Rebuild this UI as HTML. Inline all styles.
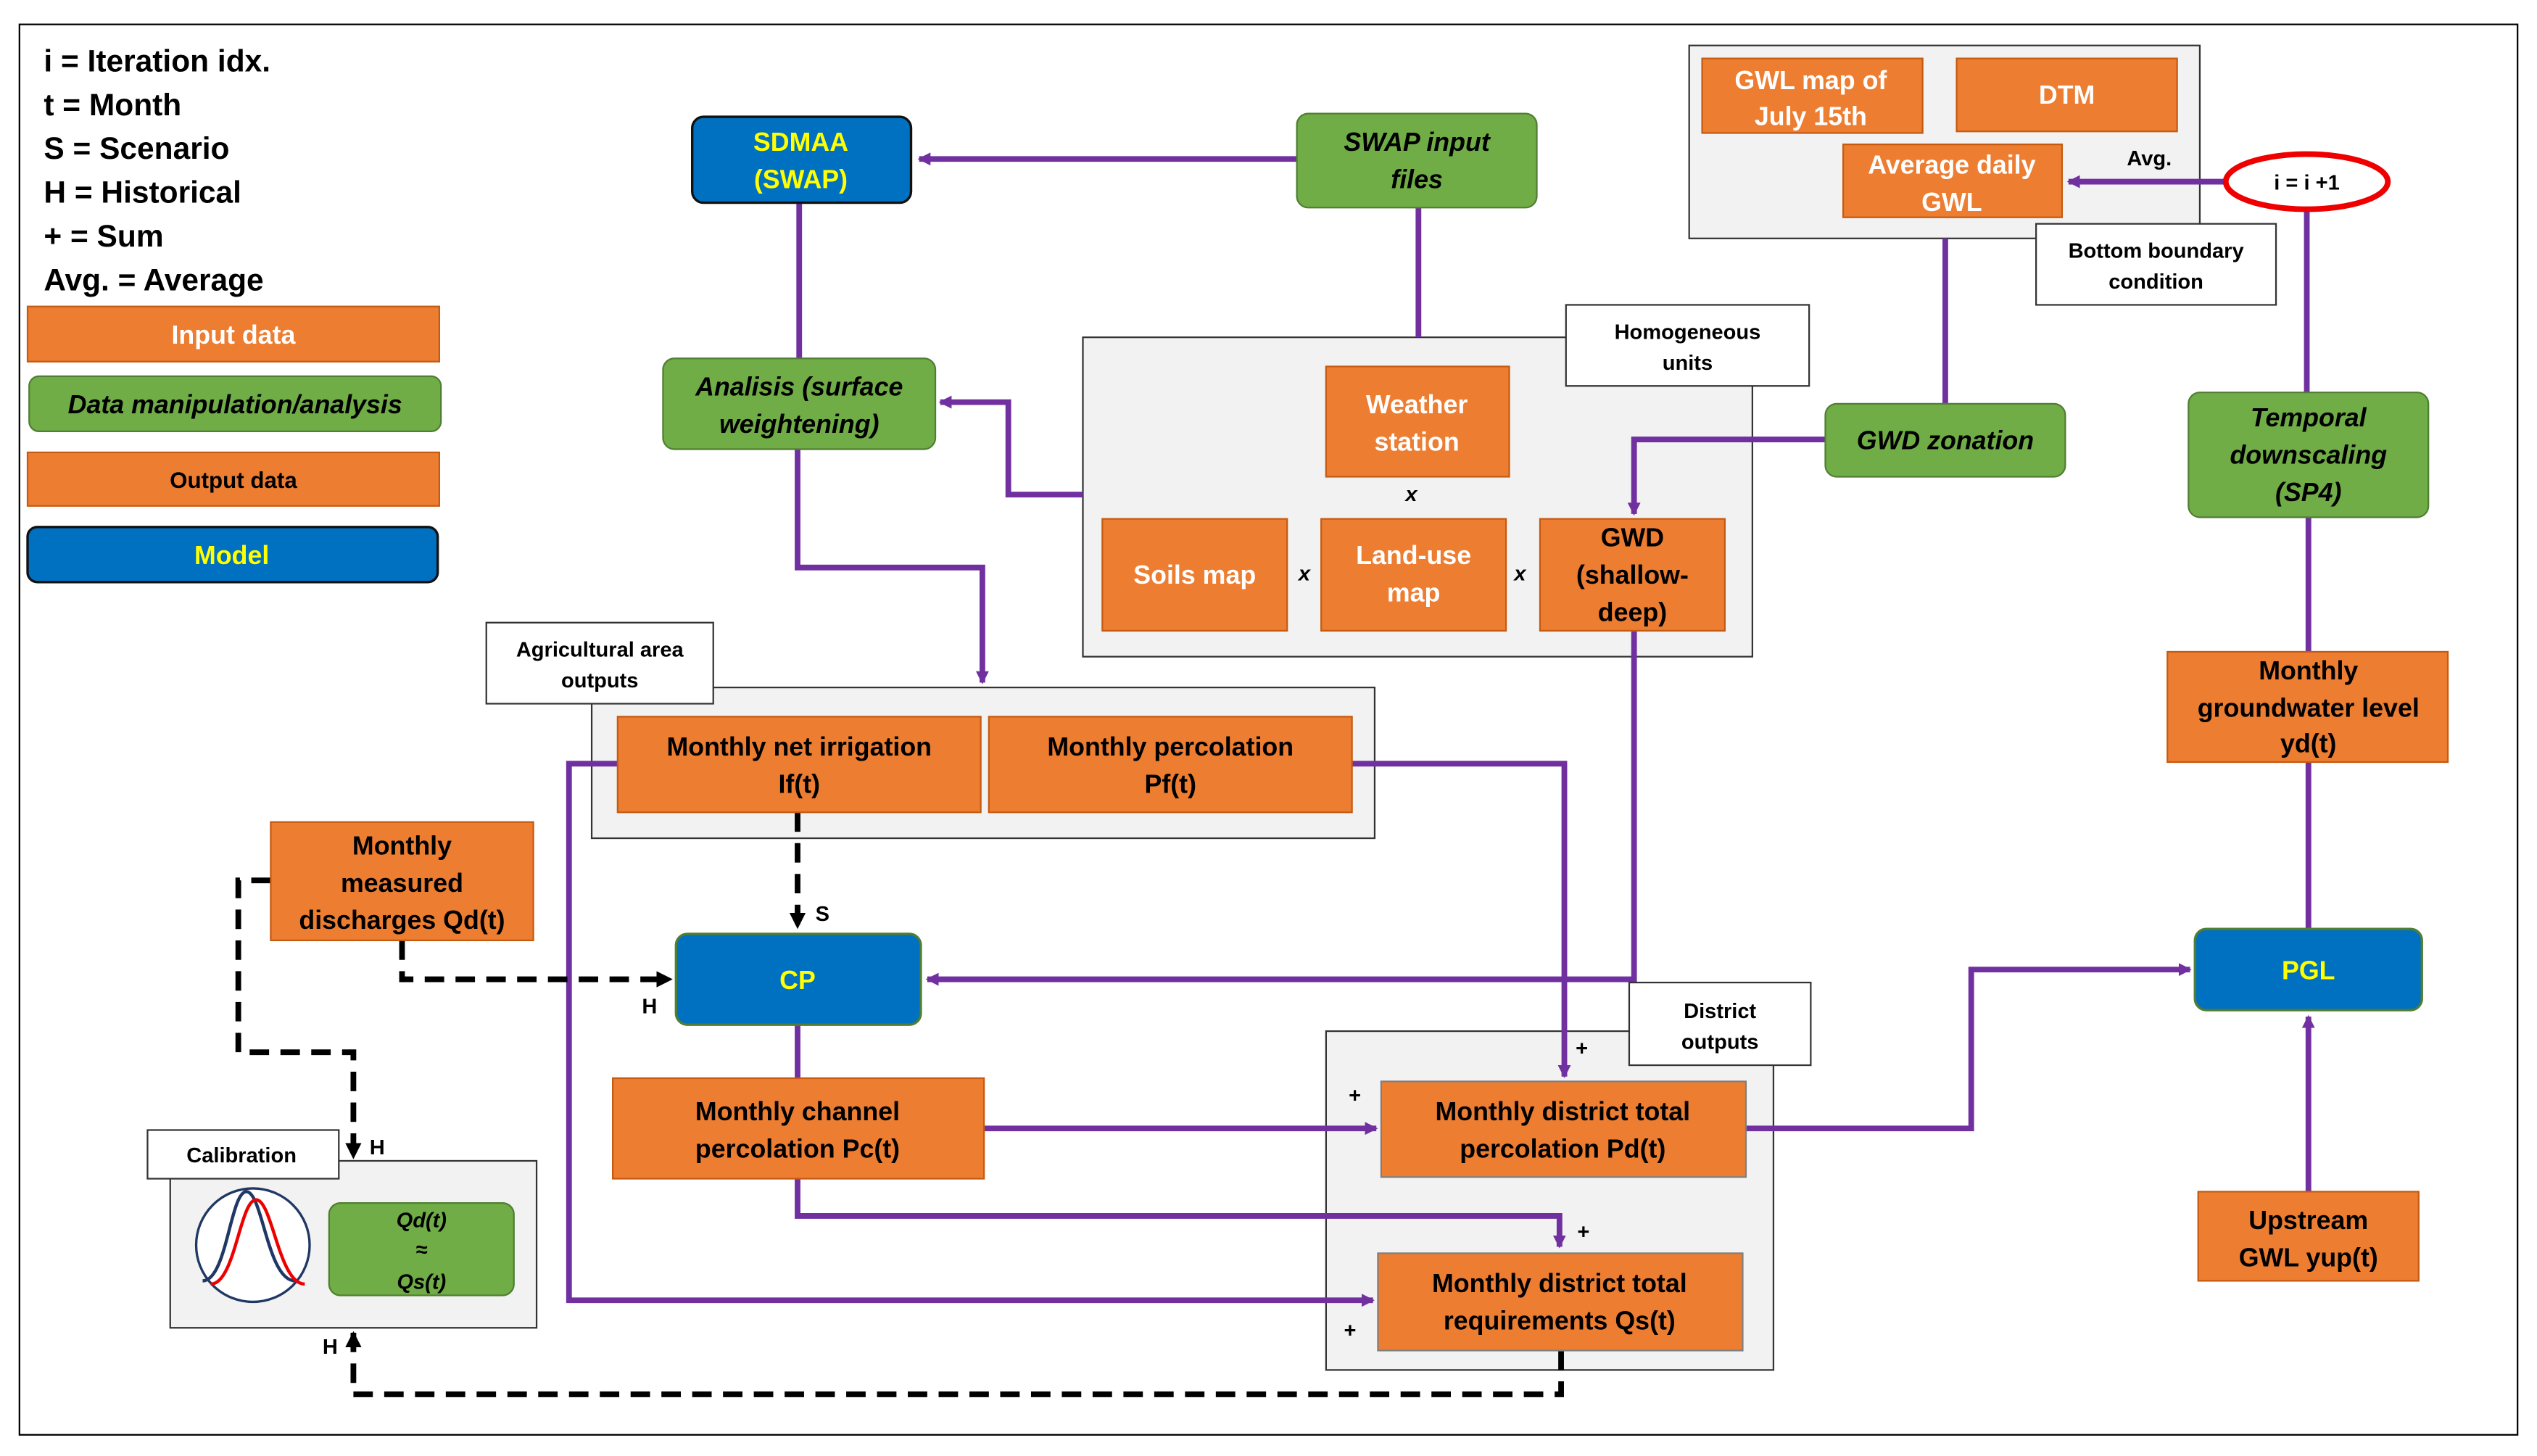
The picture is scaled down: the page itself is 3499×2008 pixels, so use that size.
<!DOCTYPE html>
<html><head><meta charset="utf-8"><style>
html,body{margin:0;padding:0;background:#fff;}
svg{display:block;}
text{font-family:"Liberation Sans",sans-serif;font-weight:bold;}
</style></head><body>
<svg width="3499" height="2008" viewBox="0 0 1565 898" xmlns="http://www.w3.org/2000/svg">
<defs>
<marker id="ap" markerWidth="8" markerHeight="8" refX="7" refY="4" orient="auto" markerUnits="userSpaceOnUse"><path d="M0,0 L8,4 L0,8 Z" fill="#7030A0"/></marker>
<marker id="ak" markerWidth="10" markerHeight="10" refX="9" refY="5" orient="auto" markerUnits="userSpaceOnUse"><path d="M0,0 L10,5 L0,10 Z" fill="#000"/></marker>
</defs>
<rect x="0" y="0" width="1565" height="898" fill="#fff"/>
<rect x="12" y="15" width="1541" height="870" fill="none" stroke="#000" stroke-width="1"/>

<g font-size="19" fill="#000">
<text x="27" y="44">i = Iteration idx.</text>
<text x="27" y="71">t = Month</text>
<text x="27" y="98">S = Scenario</text>
<text x="27" y="125">H = Historical</text>
<text x="27" y="152">+ = Sum</text>
<text x="27" y="179">Avg. = Average</text>
</g>
<rect x="17" y="189" width="254" height="34" fill="#ED7D31" stroke="#C55A11"/>
<text x="144" y="212" font-size="16" fill="#fff" text-anchor="middle">Input data</text>
<rect x="18" y="232" width="254" height="34" rx="6" fill="#70AD47" stroke="#507E32"/>
<text x="145" y="255" font-size="16" font-style="italic" fill="#000" text-anchor="middle">Data manipulation/analysis</text>
<rect x="17" y="279" width="254" height="33" fill="#ED7D31" stroke="#C55A11"/>
<text x="144" y="301" font-size="14" fill="#000" text-anchor="middle">Output data</text>
<rect x="17" y="325" width="253" height="34" rx="6" fill="#0070C0" stroke="#111" stroke-width="1.5"/>
<text x="143" y="348" font-size="16" fill="#FFFF00" text-anchor="middle">Model</text>

<rect x="668" y="208" width="413" height="197" fill="#F2F2F2" stroke="#333"/>
<rect x="365" y="424" width="483" height="93" fill="#F2F2F2" stroke="#333"/>
<rect x="818" y="636" width="276" height="209" fill="#F2F2F2" stroke="#333"/>
<rect x="105" y="716" width="226" height="103" fill="#F2F2F2" stroke="#333"/>
<rect x="1042" y="28" width="315" height="119" fill="#F2F2F2" stroke="#333"/>

<g stroke="#7030A0" stroke-width="3.5" fill="none">
<path d="M800,98 L567,98" marker-end="url(#ap)"/>
<path d="M493,125 L493,221"/>
<path d="M875,128 L875,208"/>
<path d="M668,305 L622,305 L622,248 L580,248" marker-end="url(#ap)"/>
<path d="M492,277 L492,350 L606,350 L606,421" marker-end="url(#ap)"/>
<path d="M834,471 L965,471 L965,664" marker-end="url(#ap)"/>
<path d="M381,471 L351,471 L351,802 L847,802" marker-end="url(#ap)"/>
<path d="M1008,389 L1008,604 L572,604" marker-end="url(#ap)"/>
<path d="M492,632 L492,665"/>
<path d="M607,696 L849,696" marker-end="url(#ap)"/>
<path d="M492,727 L492,750 L962,750 L962,769" marker-end="url(#ap)"/>
<path d="M1077,696 L1216,696 L1216,598 L1351,598" marker-end="url(#ap)"/>
<path d="M1424,735 L1424,627" marker-end="url(#ap)"/>
<path d="M1424,470 L1424,573"/>
<path d="M1424,319 L1424,402"/>
<path d="M1423,129 L1423,242"/>
<path d="M1373,112 L1276,112" marker-end="url(#ap)"/>
<path d="M1200,249 L1200,147"/>
<path d="M1126,271 L1008,271 L1008,317" marker-end="url(#ap)"/>
</g>

<g stroke="#000" stroke-width="3.5" fill="none" stroke-dasharray="12,7">
<path d="M492,501 L492,572" marker-end="url(#ak)"/>
<path d="M248,580 L248,604 L414,604" marker-end="url(#ak)"/>
<path d="M167,543 L147,543 L147,649 L218,649 L218,714" marker-end="url(#ak)"/>
<path d="M963,833 L963,860 L218,860 L218,822" marker-end="url(#ak)"/>
</g>

<g font-size="13" fill="#000" text-anchor="middle">
<rect x="966" y="188" width="150" height="50" fill="#fff" stroke="#333"/>
<text x="1041" y="209">Homogeneous</text><text x="1041" y="228">units</text>
<rect x="300" y="384" width="140" height="50" fill="#fff" stroke="#333"/>
<text x="370" y="405">Agricultural area</text><text x="370" y="424">outputs</text>
<rect x="1005" y="606" width="112" height="51" fill="#fff" stroke="#333"/>
<text x="1061" y="628">District</text><text x="1061" y="647">outputs</text>
<rect x="91" y="697" width="118" height="30" fill="#fff" stroke="#333"/>
<text x="149" y="717">Calibration</text>
<rect x="1256" y="138" width="148" height="50" fill="#fff" stroke="#333"/>
<text x="1330" y="159">Bottom boundary</text><text x="1330" y="178">condition</text>
</g>

<g stroke="#111" stroke-width="1.5" fill="#0070C0">
<rect x="427" y="72" width="135" height="53" rx="7"/>
<rect x="417" y="576" width="151" height="56" rx="7" stroke="#507E32"/>
<rect x="1354" y="573" width="140" height="50" rx="7" stroke="#507E32"/>
</g>
<g font-size="16" fill="#FFFF00" text-anchor="middle">
<text x="494" y="93">SDMAA</text><text x="494" y="116">(SWAP)</text>
<text x="492" y="610">CP</text>
<text x="1424" y="604">PGL</text>
</g>

<g fill="#70AD47" stroke="#507E32">
<rect x="800" y="70" width="148" height="58" rx="7"/>
<rect x="409" y="221" width="168" height="56" rx="7"/>
<rect x="1126" y="249" width="148" height="45" rx="7"/>
<rect x="1350" y="242" width="148" height="77" rx="7"/>
<rect x="203" y="742" width="114" height="57" rx="7"/>
</g>
<g font-size="16" font-style="italic" fill="#000" text-anchor="middle">
<text x="874" y="93">SWAP input</text><text x="874" y="116">files</text>
<text x="493" y="244">Analisis (surface</text><text x="493" y="267">weightening)</text>
<text x="1200" y="277">GWD zonation</text>
<text x="1424" y="263">Temporal</text><text x="1424" y="286">downscaling</text><text x="1424" y="309">(SP4)</text>
<text x="260" y="757" font-size="13">Qd(t)</text><text x="260" y="775" font-size="13">≈</text><text x="260" y="795" font-size="13">Qs(t)</text>
</g>

<g fill="#ED7D31" stroke="#C55A11">
<rect x="818" y="226" width="113" height="68"/>
<rect x="680" y="320" width="114" height="69"/>
<rect x="815" y="320" width="114" height="69"/>
<rect x="950" y="320" width="114" height="69"/>
<rect x="381" y="442" width="224" height="59"/>
<rect x="610" y="442" width="224" height="59"/>
<rect x="167" y="507" width="162" height="73"/>
<rect x="378" y="665" width="229" height="62"/>
<rect x="852" y="667" width="225" height="59" stroke="#7f7f7f"/>
<rect x="850" y="773" width="225" height="60" stroke="#7f7f7f"/>
<rect x="1337" y="402" width="173" height="68"/>
<rect x="1356" y="735" width="136" height="55"/>
<rect x="1050" y="36" width="136" height="46"/>
<rect x="1207" y="36" width="136" height="45"/>
<rect x="1137" y="89" width="135" height="45"/>
</g>
<g font-size="16" fill="#fff" text-anchor="middle">
<text x="874" y="255">Weather</text><text x="874" y="278">station</text>
<text x="737" y="360">Soils map</text>
<text x="872" y="348">Land-use</text><text x="872" y="371">map</text>
<text x="1117" y="55">GWL map of</text><text x="1117" y="77">July 15th</text>
<text x="1275" y="64">DTM</text>
<text x="1204" y="107">Average daily</text><text x="1204" y="130">GWL</text>
</g>
<g font-size="16" fill="#000" text-anchor="middle">
<text x="1007" y="337">GWD</text><text x="1007" y="360">(shallow-</text><text x="1007" y="383">deep)</text>
<text x="493" y="466">Monthly net irrigation</text><text x="493" y="489">If(t)</text>
<text x="722" y="466">Monthly percolation</text><text x="722" y="489">Pf(t)</text>
<text x="248" y="527">Monthly</text><text x="248" y="550">measured</text><text x="248" y="573">discharges Qd(t)</text>
<text x="492" y="691">Monthly channel</text><text x="492" y="714">percolation Pc(t)</text>
<text x="964" y="691">Monthly district total</text><text x="964" y="714">percolation Pd(t)</text>
<text x="962" y="797">Monthly district total</text><text x="962" y="820">requirements Qs(t)</text>
<text x="1424" y="419">Monthly</text><text x="1424" y="442">groundwater level</text><text x="1424" y="464">yd(t)</text>
<text x="1424" y="758">Upstream</text><text x="1424" y="781">GWL yup(t)</text>
</g>

<g font-size="13" fill="#000">
<text x="867" y="309" font-style="italic">x</text>
<text x="801" y="358" font-style="italic">x</text>
<text x="934" y="358" font-style="italic">x</text>
<text x="503" y="568">S</text>
<text x="396" y="625">H</text>
<text x="228" y="712">H</text>
<text x="199" y="835">H</text>
<text x="972" y="651">+</text>
<text x="832" y="680">+</text>
<text x="973" y="764">+</text>
<text x="829" y="825">+</text>
<text x="1312" y="102">Avg.</text>
</g>

<circle cx="156" cy="768" r="35" fill="#fff" stroke="#1F3864" stroke-width="1.5"/>
<path d="M125,790 C140,790 142,735 152,735 C162,735 165,790 182,790" fill="none" stroke="#1F3864" stroke-width="2"/>
<path d="M130,792 C145,792 148,740 158,740 C168,740 172,792 188,792" fill="none" stroke="#E00" stroke-width="2"/>

<ellipse cx="1423" cy="112" rx="50" ry="17" fill="#fff" stroke="#E00" stroke-width="3.5"/>
<text x="1423" y="117" font-size="13" text-anchor="middle" fill="#000">i = i +1</text>
</svg>
</body></html>
